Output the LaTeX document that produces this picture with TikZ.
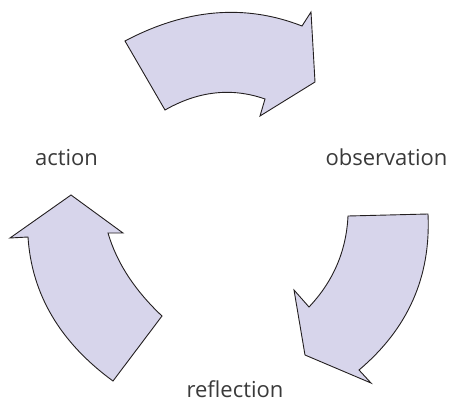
\documentclass[tikz,border=0pt]{standalone}
\usepackage{xcolor}
\definecolor{cycleLilac}{HTML}{D7D5EB}
\definecolor{edgeBlack}{HTML}{231F20}
\definecolor{labelGrey}{HTML}{3A3A3A}
\usepackage{fontspec}
\setmainfont{Open Sans}
\usepackage{tikz}
\usetikzlibrary{positioning}

\begin{document}
\begin{tikzpicture}[x=1pt, y=-1pt,
    every node/.style={font=\fontsize{22}{26}\selectfont, text=labelGrey, inner sep=0pt},
    arr/.style={fill=cycleLilac, draw=edgeBlack, line width=0.9pt, line join=miter}]
  \useasboundingbox (0,0) rectangle (450,402);
  % Top arrow: action -> observation
  \draw[arr] (125,41) .. controls (186,8.7) and (245,3.7) .. (302,26) -- (311,12) -- (315,82)
    -- (260,116) -- (265,99) .. controls (231.7,87.3) and (198.3,91) .. (165,110) -- cycle;
  % Right arrow: observation -> reflection
  \draw[arr] (348,216) -- (428,214) .. controls (431,276.7) and (408,328.7) .. (359,370)
    -- (371,383) -- (305,355) -- (294,290) -- (309,307)
    .. controls (333.3,281.3) and (346.3,251) .. (348,216) -- cycle;
  % Left arrow: reflection -> action
  \draw[arr] (71,195) -- (123,233) -- (108,233) .. controls (116.7,262.7) and (134.7,290.3) .. (162,316)
    -- (113,381) .. controls (60,342.3) and (31.7,294.3) .. (28,237) -- (10,238) -- cycle;
  % Labels
  \node[anchor=base] (action) at (66.5,165) {action};
  \node[anchor=base] (observation) at (386.5,165) {observation};
  \node[anchor=base] (reflection) at (235,397.5) {reflection};
\end{tikzpicture}
\end{document}
